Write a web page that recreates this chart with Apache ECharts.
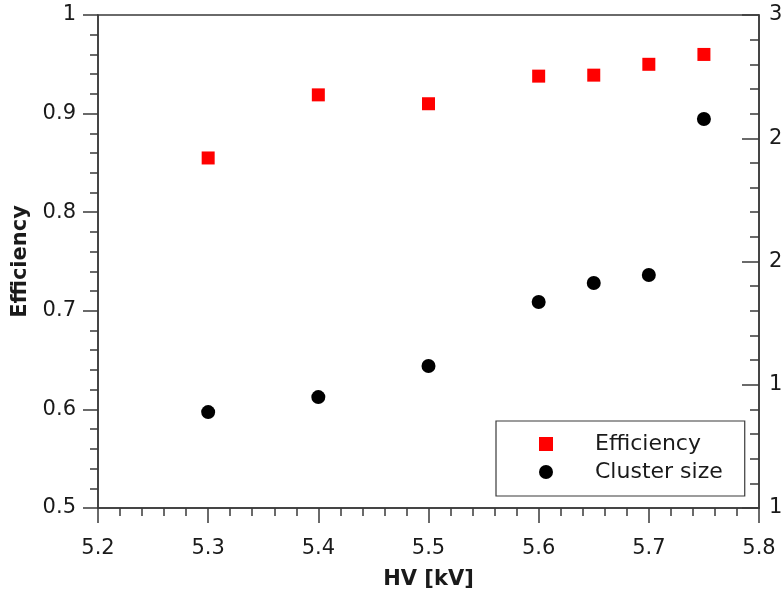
<!DOCTYPE html>
<html>
<head>
<meta charset="utf-8">
<script src="https://cdn.jsdelivr.net/npm/echarts@6/dist/echarts.min.js"></script>
<style>html,body{margin:0;padding:0;background:#fff}#c{width:781px;height:590px}</style>
</head>
<body>
<div id="c"></div>
<script>
const hv = [5.3, 5.4, 5.5, 5.6, 5.65, 5.7, 5.75];
const efficiency = [0.855, 0.919, 0.910, 0.938, 0.939, 0.950, 0.960];
const clusterSize = [1.389, 1.450, 1.576, 1.836, 1.913, 1.945, 2.578];
const xTicks = [5.2, 5.8, 0.1];
const leftTicks = [0.5, 1, 0.1];
const rightTicks = [1, 3, 0.5];

const font = 'DejaVu Sans';
const axisCol = '#3a3a3a';
const txt = '#1a1a1a';

const chart = echarts.init(document.getElementById('c'), null, {renderer: 'canvas'});
chart.setOption({
  backgroundColor: '#fff',
  animation: false,
  grid: {left: 98, right: 22, top: 15, bottom: 82, containLabel: false, outerBoundsMode: 'none',
         show: true, borderColor: axisCol, borderWidth: 1.5, backgroundColor: 'transparent'},
  xAxis: {
    type: 'value', min: xTicks[0], max: xTicks[1], interval: xTicks[2],
    name: 'HV [kV]', nameLocation: 'middle', nameGap: 61,
    nameTextStyle: {fontFamily: font, fontSize: 21, fontWeight: 'bold', color: txt},
    axisLine: {show: true, lineStyle: {color: axisCol, width: 1.5}},
    axisTick: {show: true, length: 15, lineStyle: {color: axisCol, width: 1.5}},
    minorTick: {show: true, splitNumber: 5, length: 8, lineStyle: {color: axisCol, width: 1.5}},
    axisLabel: {fontFamily: font, fontSize: 21, color: txt, margin: 30, formatter: v => v.toFixed(1)},
    splitLine: {show: false}
  },
  yAxis: [{
    type: 'value', min: leftTicks[0], max: leftTicks[1], interval: leftTicks[2],
    name: 'Efficiency', nameLocation: 'middle', nameGap: 67,
    nameTextStyle: {fontFamily: font, fontSize: 21, fontWeight: 'bold', color: txt},
    axisLine: {show: true, lineStyle: {color: axisCol, width: 1.5}},
    axisTick: {show: true, length: 15, lineStyle: {color: axisCol, width: 1.5}},
    minorTick: {show: true, splitNumber: 5, length: 8, lineStyle: {color: axisCol, width: 1.5}},
    axisLabel: {fontFamily: font, fontSize: 21, color: txt, margin: 22, formatter: v => (v === 1 ? '1' : v.toFixed(1))},
    splitLine: {show: false}
  }, {
    type: 'value', min: rightTicks[0], max: rightTicks[1], interval: rightTicks[2], position: 'right',
    axisLine: {show: true, lineStyle: {color: axisCol, width: 1.5}},
    axisTick: {show: true, inside: true, length: 17, lineStyle: {color: axisCol, width: 1.5}},
    minorTick: {show: true, splitNumber: 5, length: 9, lineStyle: {color: axisCol, width: 1.5}},
    axisLabel: {fontFamily: font, fontSize: 21, color: txt, margin: 10, formatter: v => String(v)},
    splitLine: {show: false}
  }],
  legend: {
    orient: 'vertical', left: 496, top: 421,
    padding: [12, 22, 13, 43], itemGap: 6,
    itemWidth: 14, itemHeight: 14,
    borderColor: axisCol, borderWidth: 1.2, backgroundColor: '#fff',
    textStyle: {fontFamily: font, fontSize: 22, color: txt, lineHeight: 22, padding: [0, 0, 0, 37]},
    data: ['Efficiency', 'Cluster size']
  },
  series: [{
    name: 'Efficiency', type: 'scatter', yAxisIndex: 0,
    symbol: 'rect', symbolSize: 13, itemStyle: {color: '#ff0000', opacity: 1},
    data: hv.map((x, i) => [x, efficiency[i]])
  }, {
    name: 'Cluster size', type: 'scatter', yAxisIndex: 1,
    symbol: 'circle', symbolSize: 14, itemStyle: {color: '#000000', opacity: 1},
    data: hv.map((x, i) => [x, clusterSize[i]])
  }]
});
</script>
</body>
</html>
